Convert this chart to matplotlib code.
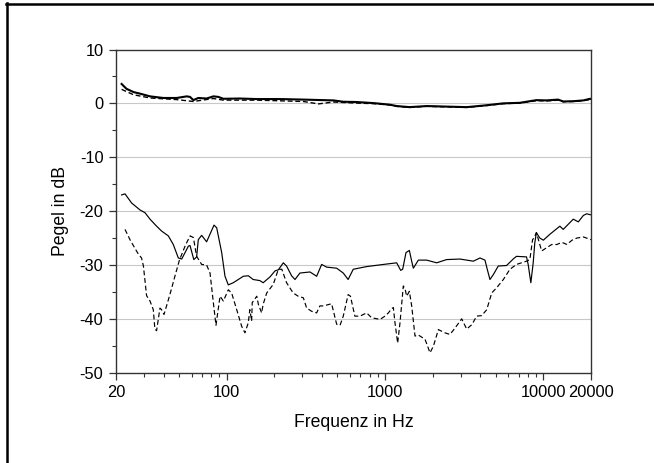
import matplotlib
matplotlib.use("Agg")
import matplotlib.pyplot as plt
from matplotlib.lines import Line2D
from matplotlib.ticker import FixedLocator, FixedFormatter, NullFormatter

plt.rcParams['font.family'] = ['Liberation Sans', 'DejaVu Sans']
plt.rcParams['lines.scale_dashes'] = False
plt.rcParams['axes.unicode_minus'] = False

# upper curves (frequency response)
f_up_solid = [21.7, 23.3, 25.8, 28.4, 32.8, 39.8, 48.3, 55.9, 58.7, 61.6, 66.2, 74.7, 82.4, 88.6, 95.3,
              121, 155, 217, 305, 408, 472, 545, 663, 846, 1075, 1185, 1432, 1832, 2450, 3280, 4390,
              5590, 7100, 9040, 10490, 12400, 13350, 15450, 17900, 19720, 20000]
db_up_solid = [3.6, 2.7, 2.1, 1.8, 1.3, 1.0, 1.0, 1.3, 1.2, 0.6, 1.0, 0.9, 1.3, 1.2, 0.85,
               0.9, 0.8, 0.8, 0.7, 0.6, 0.55, 0.3, 0.25, 0.05, -0.25, -0.5, -0.7, -0.5, -0.6, -0.7, -0.35,
               0.0, 0.1, 0.6, 0.55, 0.7, 0.35, 0.4, 0.55, 0.85, 0.8]
f_up_dash = [21.7, 25.8, 32.8, 48.3, 61.6, 82.4, 95.3, 155, 305, 380, 472, 663, 846, 1075, 1185, 1432,
             1832, 2450, 3280, 4390, 5590, 7100, 9040, 10490, 12400, 13350, 15450, 17900, 20000]
db_up_dash = [2.6, 1.6, 1.0, 0.7, 0.35, 0.9, 0.6, 0.6, 0.35, -0.1, 0.25, 0.05, -0.05, -0.3, -0.55, -0.75,
              -0.55, -0.65, -0.75, -0.4, -0.05, 0.05, 0.5, 0.45, 0.6, 0.3, 0.35, 0.5, 0.75]

# lower curves (crosstalk)
f_lo_solid = [21.7, 22.8, 25.1, 28.4, 30.5, 32.8, 36.1, 38.8, 42.8, 46.0, 49.5, 52, 54.6, 57.3, 58.7, 62,
              64.6, 66.2, 69.5, 74.7, 83.2, 86.5, 93, 97.6, 102.4, 110, 127.4, 137, 147, 162, 170, 188,
              202, 212, 228, 239, 257, 270, 290, 336, 370, 398, 428, 495, 545, 585, 630, 766, 978,
              1185, 1256, 1293, 1357, 1425, 1474, 1510, 1624, 1832, 2120, 2450, 2975, 3613, 3980,
              4280, 4424, 4600, 4830, 5190, 5860, 6450, 6765, 7830, 8020, 8340, 8630, 8830, 9040,
              9500, 10000, 11000, 12720, 13350, 15450, 16640, 17900, 18800, 20000]
db_lo_solid = [-17.0, -16.8, -18.5, -19.8, -20.3, -21.5, -22.8, -23.7, -24.6, -26.2, -28.7, -28.9, -27.7,
               -26.5, -26.4, -29.0, -28.5, -25.3, -24.5, -25.7, -22.6, -23.1, -27.7, -32.1, -33.7, -33.3,
               -32.1, -32.0, -32.7, -32.9, -33.3, -32.2, -31.1, -30.9, -29.6, -30.2, -32.0, -32.7, -31.5,
               -31.3, -32.1, -29.9, -30.4, -30.6, -31.5, -32.7, -30.8, -30.3, -29.9,
               -29.6, -31.0, -30.8, -27.7, -27.3, -29.3, -30.6, -29.1, -29.1, -29.6, -29.0, -28.9, -29.3,
               -28.7, -29.1, -30.8, -32.7, -31.8, -30.2, -30.1, -28.9, -28.4, -28.5, -29.9, -33.3, -29.6,
               -25.9, -24.0, -25.0, -25.4, -24.3, -22.8, -23.4, -21.5, -22.0, -20.8, -20.5, -20.7]
f_lo_dash = [22.8, 24.6, 27.7, 29.0, 29.8, 31.2, 32.8, 34.4, 35.2, 36.1, 37.9, 38.8, 40.2, 43.8, 47.1,
             50.3, 54.6, 58.7, 61.6, 64.6, 69.5, 74.7, 78.5, 82.4, 85.6, 90.8, 95.3, 102.4, 107.5, 115.7,
             124.4, 130.5, 137, 140, 143.8, 145, 155, 158.5, 166.3, 170, 179, 197, 212, 223, 239, 263,
             283, 305, 320, 344, 370, 388, 408, 460, 495, 520, 545, 585, 605, 645, 694, 766, 823, 930,
             1000, 1050, 1102, 1129, 1156, 1202, 1244, 1305, 1338, 1370, 1425, 1474, 1547, 1624, 1790,
             1924, 2020, 2173, 2393, 2573, 2770, 3050, 3280, 3530, 3795, 4080, 4390, 4720, 5080, 5590,
             6150, 6765, 7830, 8220, 8550, 8720, 9040, 9760, 10490, 11300, 12180, 13100, 14100, 15170,
             16320, 17900, 20000]
db_lo_dash = [-23.4, -25.4, -28.0, -28.7, -30.2, -35.7, -36.7, -38.3, -41.9, -42.2, -38.0, -38.3, -39.2,
              -35.5, -32.1, -29.1, -26.5, -24.6, -24.9, -28.4, -29.9, -30.0, -31.5, -37.0, -41.2, -35.8,
              -36.7, -34.6, -35.2, -38.3, -41.4, -42.6, -40.7, -38.3, -40.4, -37.0, -35.8, -37.3, -38.9,
              -37.3, -35.2, -33.6, -30.8, -30.8, -33.3, -35.2, -35.8, -36.1, -38.0, -38.6, -38.9, -37.6,
              -37.6, -37.2, -41.0, -41.2, -39.5, -35.5, -35.8, -39.5, -39.5, -38.9, -39.8, -40.1,
              -39.5, -38.9, -38.1, -37.9, -40.7, -44.5, -40.7, -33.9, -34.4, -35.8, -34.9, -37.6, -43.2,
              -43.0, -43.8, -46.3, -45.1, -42.0, -42.6, -42.9, -41.7, -40.0, -41.9, -41.1, -39.5, -39.4,
              -38.3, -35.2, -34.2, -32.7, -30.8, -29.9, -29.3, -29.0, -25.3, -25.0, -24.0, -27.4, -26.8,
              -26.2, -26.2, -25.8, -26.2, -25.4, -25.0, -24.8, -25.3]

x_ticks = [20, 100, 1000, 10000, 20000]
x_labels = ["20", "100", "1000", "10000", "20000"]
y_ticks = [-50, -40, -30, -20, -10, 0, 10]

W, H = 654, 463
fig = plt.figure(figsize=(W / 100, H / 100), dpi=100)
ax = fig.add_axes([116 / W, 1 - 372.7 / H, (591 - 116) / W, (372.7 - 49.5) / H])

for yv in [-40, -30, -20, -10, 0]:
    ax.axhline(yv, color='#c8c8c8', lw=0.8, zorder=0)

ax.plot(f_lo_solid, db_lo_solid, color='black', lw=0.85)
ax.plot(f_lo_dash, db_lo_dash, color='black', lw=0.85, dashes=(3.5, 2))
ax.plot(f_up_dash, db_up_dash, color='black', lw=1.0, dashes=(3.5, 2))
ax.plot(f_up_solid, db_up_solid, color='black', lw=1.5)

ax.set_xscale('log')
ax.set_xlim(20, 20000)
ax.set_ylim(-50, 10)
ax.xaxis.set_major_locator(FixedLocator(x_ticks))
ax.xaxis.set_major_formatter(FixedFormatter(x_labels))
minor = [m * 10 ** d for d in range(1, 5) for m in range(2, 10)]
minor = [v for v in minor if 20 < v < 20000 and v not in x_ticks]
ax.xaxis.set_minor_locator(FixedLocator(minor))
ax.xaxis.set_minor_formatter(NullFormatter())
ax.yaxis.set_major_locator(FixedLocator(y_ticks))
ax.yaxis.set_minor_locator(FixedLocator([-45, -35, -25, -15, -5, 5]))

for s in ax.spines.values():
    s.set_color('#333333')
    s.set_linewidth(1.0)
ax.tick_params(which='major', direction='out', length=5, width=0.9, color='#333333',
               labelsize=11.8, pad=4)
ax.tick_params(which='minor', direction='out', length=3, width=0.8, color='#333333')
ax.tick_params(top=False, right=False, which='both')

ax.set_xlabel("Frequenz in Hz", fontsize=12.7, labelpad=10)
ax.set_ylabel("Pegel in dB", fontsize=12.7, labelpad=8)

# outer frame lines (left and top)
fig.add_artist(Line2D([6.5 / W, 6.5 / W], [0, 1 - 3 / H], color='black', lw=1.8,
                      transform=fig.transFigure))
fig.add_artist(Line2D([5.6 / W, 1], [1 - 4 / H, 1 - 4 / H], color='black', lw=1.8,
                      transform=fig.transFigure))

fig.savefig("out.png", dpi=100)
